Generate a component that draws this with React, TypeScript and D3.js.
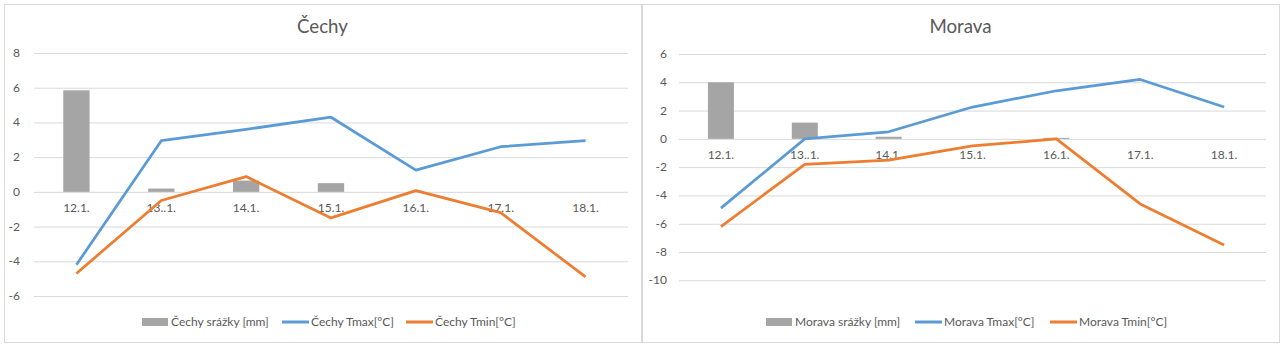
import React, { useEffect } from "react";
import * as d3 from "d3";

const categories = ["12.1.", "13..1.", "14.1.", "15.1.", "16.1.", "17.1.", "18.1."];

const cechySrazky = [5.85, 0.19, 0.65, 0.5, 0, 0, 0];
const cechyTmax = [-4.2, 2.95, 3.6, 4.3, 1.25, 2.6, 2.95];
const cechyTmin = [-4.7, -0.5, 0.88, -1.5, 0.07, -1.2, -4.9];
const cechyTicks = [-6, -4, -2, 0, 2, 4, 6, 8];

const moravaSrazky = [4.0, 1.15, 0.15, 0, 0.07, 0, 0];
const moravaTmax = [-4.9, 0.0, 0.5, 2.25, 3.4, 4.2, 2.25];
const moravaTmin = [-6.2, -1.8, -1.5, -0.5, 0.0, -4.6, -7.5];
const moravaTicks = [-10, -8, -6, -4, -2, 0, 2, 4, 6];

const FONT = "Lato, 'Open Sans', sans-serif";
const TEXT = "#595959";
const GRID = "#d9d9d9";
const GRAY = "#a5a5a5";
const BLUE = "#5b9bd5";
const ORANGE = "#ed7d31";

type PanelProps = {
  ox: number;
  title: string;
  name: string;
  srazky: number[];
  tmax: number[];
  tmin: number[];
  ticks: number[];
  plotX: [number, number];
  plotY: [number, number];
  labelRight: number;
  legendX: number[];
};

const BOX_W = 637;

function Panel(p: PanelProps) {
  const x = d3.scaleBand<string>().domain(categories).range(p.plotX).padding(0);
  const yDomain = [p.ticks[0], p.ticks[p.ticks.length - 1]];
  const y = d3.scaleLinear().domain(yDomain).range(p.plotY);
  const bw = x.bandwidth() * 0.31;
  const cx = (c: string) => (x(c) as number) + x.bandwidth() / 2;
  const line = d3
    .line<number>()
    .x((_, i) => cx(categories[i]))
    .y((d) => y(d));
  const titleX = p.ox + BOX_W / 2;
  const [lg0, lg1, lg2] = p.legendX;
  const ly = 322;
  return (
    <g>
      <rect x={p.ox + 0.5} y={4.5} width={BOX_W} height={338} fill="#fff" stroke={GRID} />
      <text x={titleX} y={33} textAnchor="middle" fontSize={18.7} fill={TEXT} fontFamily={FONT}>
        {p.title}
      </text>
      {p.ticks.map((t) => (
        <g key={t}>
          <line x1={p.plotX[0]} x2={p.plotX[1]} y1={y(t) + 0.5} y2={y(t) + 0.5} stroke={GRID} />
          <text x={p.labelRight} y={y(t) + 4} textAnchor="end" fontSize={12} fill={TEXT} fontFamily={FONT}>
            {t < 0 ? "-" + Math.abs(t) : t}
          </text>
        </g>
      ))}
      {p.srazky.map((v, i) =>
        v > 0 ? (
          <rect
            key={i}
            x={cx(categories[i]) - bw / 2}
            y={y(v)}
            width={bw}
            height={y(0) - y(v)}
            fill={GRAY}
          />
        ) : null
      )}
      {categories.map((c) => (
        <text key={c} x={cx(c)} y={y(0) + 20} textAnchor="middle" fontSize={12} fill={TEXT} fontFamily={FONT}>
          {c}
        </text>
      ))}
      <path d={line(p.tmax) || ""} fill="none" stroke={BLUE} strokeWidth={2.75} strokeLinejoin="round" />
      <path d={line(p.tmin) || ""} fill="none" stroke={ORANGE} strokeWidth={2.75} strokeLinejoin="round" />
      <rect x={lg0} y={ly - 4} width={26} height={8} fill={GRAY} />
      <text x={lg0 + 29} y={ly + 4} fontSize={12} fill={TEXT} fontFamily={FONT}>
        {p.name + " srážky [mm]"}
      </text>
      <line x1={lg1} x2={lg1 + 27} y1={ly} y2={ly} stroke={BLUE} strokeWidth={3} />
      <text x={lg1 + 29} y={ly + 4} fontSize={12} fill={TEXT} fontFamily={FONT}>
        {p.name + " Tmax[°C]"}
      </text>
      <line x1={lg2} x2={lg2 + 27} y1={ly} y2={ly} stroke={ORANGE} strokeWidth={3} />
      <text x={lg2 + 29} y={ly + 4} fontSize={12} fill={TEXT} fontFamily={FONT}>
        {p.name + " Tmin[°C]"}
      </text>
    </g>
  );
}

export default function App() {
  useEffect(() => {
    document.body.style.margin = "0";
  }, []);
  return (
    <svg width={1285} height={348} style={{ display: "block" }}>
      <rect x={0} y={0} width={1285} height={348} fill="#fff" />
      <Panel
        ox={4}
        title="Čechy"
        name="Čechy"
        srazky={cechySrazky}
        tmax={cechyTmax}
        tmin={cechyTmin}
        ticks={cechyTicks}
        plotX={[34, 628]}
        plotY={[296, 53]}
        labelRight={20}
        legendX={[142, 282, 406]}
      />
      <Panel
        ox={642}
        title="Morava"
        name="Morava"
        srazky={moravaSrazky}
        tmax={moravaTmax}
        tmin={moravaTmin}
        ticks={moravaTicks}
        plotX={[679, 1266]}
        plotY={[280.3, 54]}
        labelRight={667}
        legendX={[766, 915, 1050]}
      />
    </svg>
  );
}
